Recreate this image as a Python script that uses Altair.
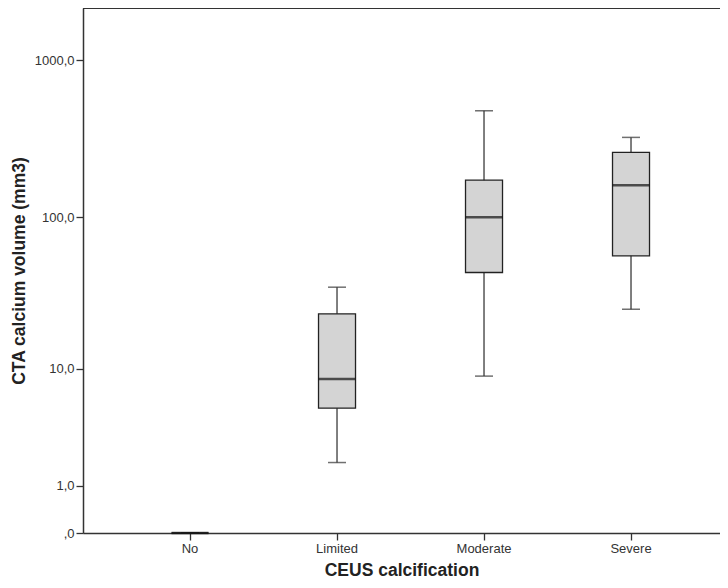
import altair as alt
import pandas as pd

categories = ["No", "Limited", "Moderate", "Severe"]
whisker_low = [0, 1.8, 8.9, 25.3]
q1 = [0, 5.2, 44.0, 56.4]
median = [0, 8.5, 100.0, 160.0]
q3 = [0, 23.6, 172.5, 259.0]
whisker_high = [0, 35.3, 477.0, 323.0]
y_ticks = [0, 1, 10, 100, 1000]

df = pd.DataFrame({
    "cat": categories,
    "lo": whisker_low,
    "q1": q1,
    "med": median,
    "q3": q3,
    "hi": whisker_high,
})

W, H = 637, 525
FONT = "Liberation Sans"

xenc = alt.X(
    "cat:N",
    sort=categories,
    title="CEUS calcification",
    scale=alt.Scale(paddingInner=0, paddingOuter=0.1667, align=0.684),
    axis=alt.Axis(labelAngle=0, titlePadding=6, labelPadding=2),
)
yscale = alt.Scale(type="symlog", constant=1, domain=[0, 2145], nice=False)
yaxis = alt.Axis(
    values=y_ticks,
    labelExpr="datum.value == 0 ? ',0' : replace(format(datum.value, '.1f'), '.', ',')",
    titlePadding=6,
    labelPadding=2,
)

base = alt.Chart(df)

whisk = base.mark_rule(color="#555555", strokeWidth=1.5).encode(
    x=xenc,
    y=alt.Y("lo:Q", scale=yscale, axis=yaxis, title="CTA calcium volume (mm3)"),
    y2="hi:Q",
)
caps_lo = base.mark_tick(color="#333333", size=18, thickness=1.5).encode(
    x=xenc, y=alt.Y("lo:Q", scale=yscale)
)
caps_hi = base.mark_tick(color="#333333", size=18, thickness=1.5).encode(
    x=xenc, y=alt.Y("hi:Q", scale=yscale)
)
box = base.mark_bar(size=37, fill="#d4d4d4", stroke="#222222", strokeWidth=1.3).encode(
    x=xenc, y=alt.Y("q1:Q", scale=yscale), y2="q3:Q"
)
med = base.mark_tick(color="#111111", size=37, thickness=2.5).encode(
    x=xenc, y=alt.Y("med:Q", scale=yscale)
)
top = alt.Chart(df).mark_rule(color="#333333", strokeWidth=1.5).encode(
    y=alt.value(0), x=alt.value(0), x2=alt.value(W)
)

chart = (
    alt.layer(whisk, caps_lo, caps_hi, box, med, top)
    .properties(
        width=W,
        height=H,
        autosize=alt.AutoSizeParams(type="none"),
        padding={"left": 75, "top": 0, "right": 0, "bottom": 46},
    )
    .configure_view(stroke=None)
    .configure_axis(
        grid=False,
        domainColor="#333333",
        domainWidth=1.5,
        tickColor="#333333",
        tickSize=7,
        tickWidth=1.3,
        labelFont=FONT,
        labelFontSize=13,
        labelColor="#333333",
        titleFont=FONT,
        titleFontSize=17.5,
        titleFontWeight="bold",
        titleColor="#222222",
    )
)

chart.save("out.html", embed_options={"renderer": "svg", "actions": False})
